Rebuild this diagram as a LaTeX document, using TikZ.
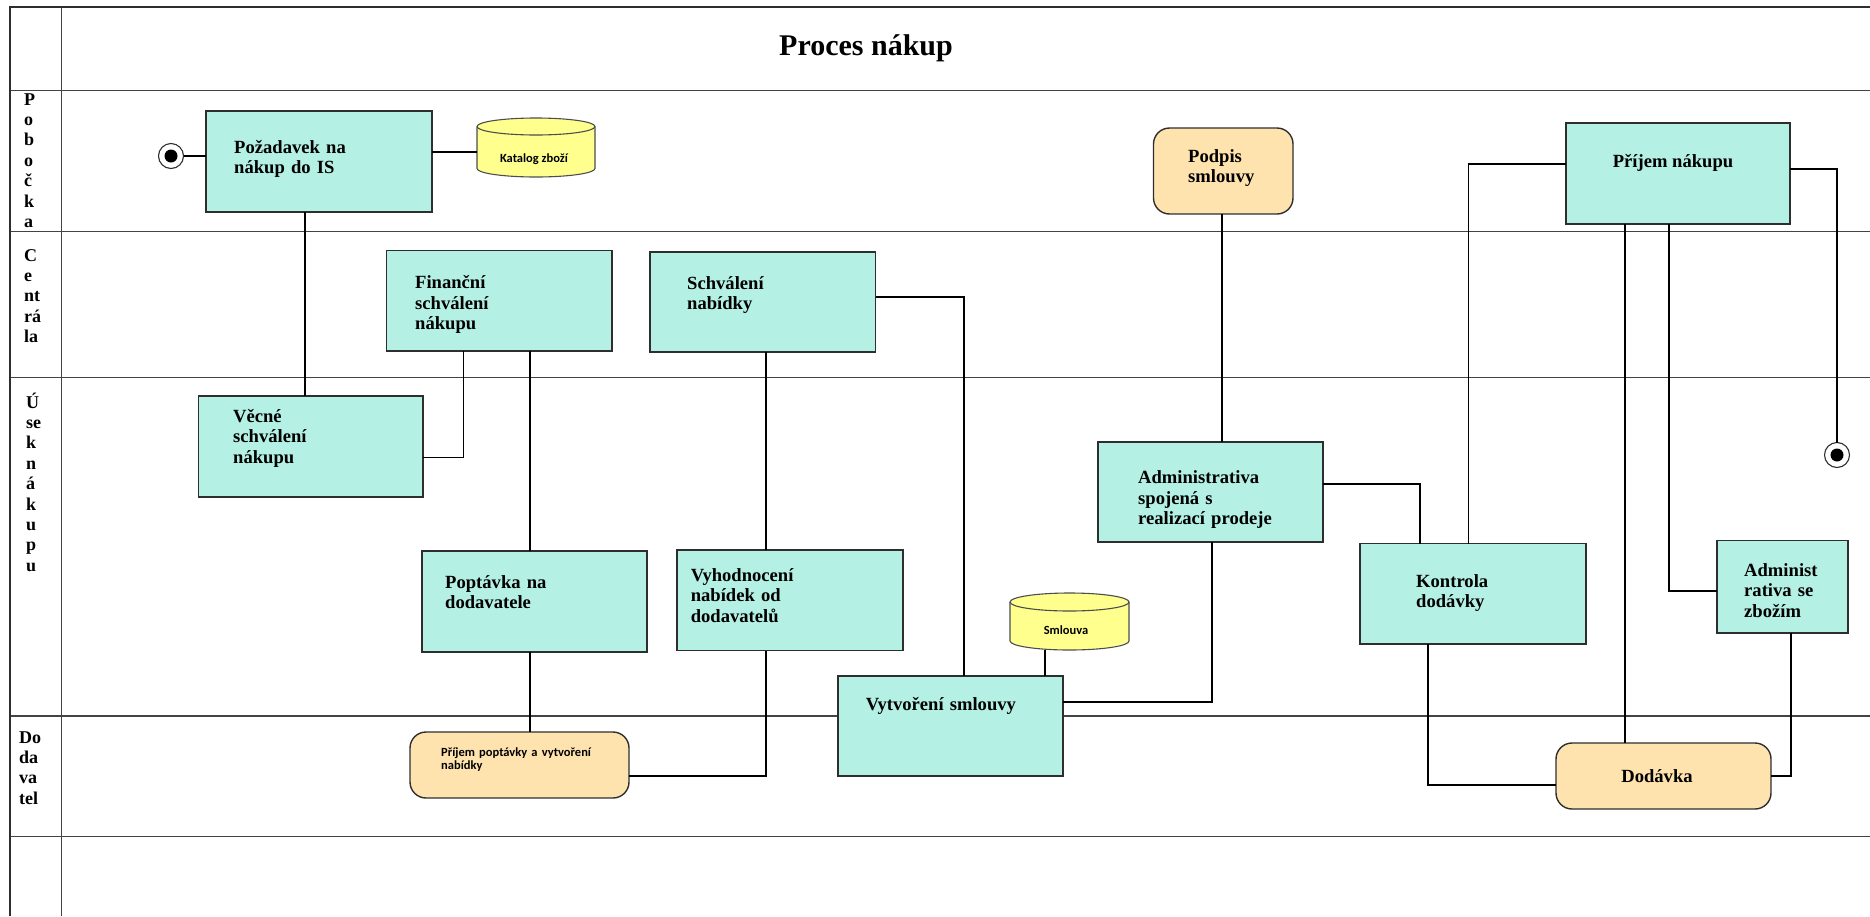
\documentclass[tikz,border=0pt]{standalone}
\usepackage{fontspec}
\setmainfont{Liberation Serif}
\newfontfamily\smallsans{Carlito}
\usetikzlibrary{calc}
\definecolor{aqua}{HTML}{B4F0E4}
\definecolor{peach}{HTML}{FFE3AE}
\definecolor{lemon}{HTML}{FFFF8E}
\definecolor{ink}{HTML}{2E2E2E}
\begin{document}
\begin{tikzpicture}[x=1pt,y=1pt,
  lane/.style={draw=ink!90, line width=1.7pt},
  proc/.style={draw=ink, line width=1.4pt, fill=aqua, rectangle, anchor=north west, inner sep=0pt, outer sep=0pt},
  ext/.style={draw=ink, line width=1.4pt, fill=peach, rectangle, rounded corners=16pt, anchor=north west, inner sep=0pt, outer sep=0pt},
  store/.style={rectangle, anchor=north west, inner sep=0pt, outer sep=0pt},
  drum/.style={fill=lemon, draw=ink!85, line width=1.1pt},
  boxtext/.style={anchor=base west, inner sep=0pt, text width=220pt, align=left, font=\bfseries\fontsize{18.6}{20.4}\selectfont},
  lanetext/.style={anchor=base west, inner sep=0pt, text width=40pt, align=left, font=\bfseries\fontsize{18}{20.4}\selectfont},
  smalltext/.style={inner sep=0pt, font=\smallsans\bfseries\fontsize{12.5}{13}\selectfont},
  flow/.style={draw=black, line width=1.3pt},
  event/.style={circle, draw=ink, line width=1.1pt, fill=white, minimum size=25pt, inner sep=0pt, outer sep=0pt},
]
\useasboundingbox (0,0) rectangle (1870,-916);

% frame and swimlanes
\draw[lane] (61.5,-7) -- (61.5,-916);
\foreach \yy in {90.6,231.5,377.5,716,836.5}
  \draw[lane] (10,-\yy) -- (1870,-\yy);
\draw[ink, line width=2.6pt] (10,-916) -- (10,-7) -- (1870,-7);

% title
\node[font=\bfseries\fontsize{30}{36}\selectfont] (title) at (866,-48) {Proces nákup};

% lane names
\node[lanetext] (lane1) at (24,-105) {P\\o\\b\\o\\č\\k\\a};
\node[lanetext] (lane2) at (24,-261) {C\\e\\nt\\rá\\la};
\node[lanetext] (lane3) at (26,-408) {Ú\\se\\k\\n\\á\\k\\u\\p\\u};
\node[lanetext] (lane4) at (19,-743) {Do\\da\\va\\tel};

% activities
\node[proc, minimum width=226pt, minimum height=101pt] (req) at (206,-111) {};
\node[boxtext] (req-t) at (234,-153.2) {Požadavek na\\nákup do IS};

\node[proc, minimum width=225.5pt, minimum height=100.5pt] (fin) at (386.5,-250.5) {};
\node[boxtext] (fin-t) at (415,-288.8) {Finanční\\schválení\\nákupu};

\node[proc, minimum width=225.5pt, minimum height=100pt] (schv) at (650,-252) {};
\node[boxtext] (schv-t) at (687,-289.5) {Schválení\\nabídky};

\node[proc, minimum width=224.5pt, minimum height=101pt] (vec) at (198.5,-396) {};
\node[boxtext] (vec-t) at (233,-422.5) {Věcné\\schválení\\nákupu};

\node[proc, minimum width=225pt, minimum height=101pt] (pop) at (422,-551) {};
\node[boxtext] (pop-t) at (445,-588.5) {Poptávka na\\dodavatele};

\node[proc, minimum width=226pt, minimum height=100.5pt] (vyh) at (677,-550) {};
\node[boxtext] (vyh-t) at (690.6,-581.5) {Vyhodnocení\\nabídek od\\dodavatelů};

\node[proc, minimum width=225pt, minimum height=100pt] (vyt) at (838,-676) {};
\node[boxtext] (vyt-t) at (865.6,-710.5) {Vytvoření smlouvy};

\node[proc, minimum width=225pt, minimum height=100pt] (adm) at (1098,-442) {};
\node[boxtext] (adm-t) at (1138,-483.8) {Administrativa\\spojená s\\realizací prodeje};

\node[proc, minimum width=226pt, minimum height=100.5pt] (kon) at (1360,-543.5) {};
\node[boxtext] (kon-t) at (1416,-587.2) {Kontrola\\dodávky};

\node[proc, minimum width=224pt, minimum height=101pt] (prn) at (1566,-123) {};
\node[font=\bfseries\fontsize{18.6}{20.4}\selectfont, inner sep=0pt] (prn-t) at (1673,-163.3) {Příjem nákupu};

\node[proc, minimum width=131pt, minimum height=92.5pt] (adz) at (1717,-540.5) {};
\node[boxtext] (adz-t) at (1744,-576.2) {Administ\\rativa se\\zbožím};

% supplier / external steps
\node[ext, minimum width=219pt, minimum height=66pt] (prp) at (410,-732) {};
\node[smalltext, anchor=base west, text width=200pt, align=left] (prp-t) at (441,-756.8) {Příjem poptávky a vytvoření\\nabídky};

\node[ext, minimum width=139.5pt, minimum height=86pt] (pod) at (1153.5,-128) {};
\node[boxtext] (pod-t) at (1188,-162.2) {Podpis\\smlouvy};

\node[ext, minimum width=215pt, minimum height=66pt] (dod) at (1556,-743) {};
\node[font=\bfseries\fontsize{18.6}{20.4}\selectfont, inner sep=0pt] (dod-t) at (1657,-776) {Dodávka};

% data stores
\node[store, minimum width=118pt, minimum height=59pt] (kat) at (477,-118) {};
\path[drum] ($(kat.north west)+(0,-8.5)$) -- ($(kat.south west)+(0,8.5)$)
  arc[start angle=180, end angle=360, x radius=59pt, y radius=8.5pt]
  -- ($(kat.north east)+(0,-8.5)$)
  arc[start angle=0, end angle=180, x radius=59pt, y radius=8.5pt] -- cycle;
\draw[ink!85, line width=1.1pt] ($(kat.north west)+(0,-8.5)$)
  arc[start angle=180, end angle=360, x radius=59pt, y radius=8.5pt];
\node[smalltext] (kat-t) at (534,-159.5) {Katalog zboží};

\node[store, minimum width=119pt, minimum height=57pt] (sml) at (1010,-593) {};
\path[drum] ($(sml.north west)+(0,-9)$) -- ($(sml.south west)+(0,9)$)
  arc[start angle=180, end angle=360, x radius=59.5pt, y radius=9pt]
  -- ($(sml.north east)+(0,-9)$)
  arc[start angle=0, end angle=180, x radius=59.5pt, y radius=9pt] -- cycle;
\draw[ink!85, line width=1.1pt] ($(sml.north west)+(0,-9)$)
  arc[start angle=180, end angle=360, x radius=59.5pt, y radius=9pt];
\node[smalltext] (sml-t) at (1066,-630) {Smlouva};

% start and end events
\node[event] (startev) at (171,-156) {};
\fill[black] (startev.center) circle[radius=6.5pt];
\node[event] (endev) at (1837,-455) {};
\fill[black] (endev.center) circle[radius=6.5pt];

% connectors
\draw[flow] (startev.east) -- (startev.east -| req.west);

\coordinate (c2) at ([yshift=-4.5pt]kat.west);
\draw[flow] (c2 -| req.east) -- (c2);

\coordinate (c3) at ([xshift=99pt]req.south west);
\draw[flow] (c3) -- (c3 |- vec.north);

\coordinate (c4) at ([yshift=-61.8pt]vec.north east);
\coordinate (c4b) at ([xshift=77pt]fin.south west);
\draw[flow] (c4) -| (c4b);

\coordinate (c5) at ([xshift=143.5pt]fin.south west);
\draw[flow] (c5) -- (c5 |- pop.north);

\coordinate (c6) at ([xshift=108pt]pop.south west);
\draw[flow] (c6) -- (c6 |- prp.north);

\coordinate (c7) at ([yshift=-44pt]prp.north east);
\coordinate (c7b) at ([xshift=89pt]vyh.south west);
\draw[flow] (c7) -| (c7b);

\coordinate (c8) at ([xshift=116pt]schv.south west);
\draw[flow] (c8) -- (c8 |- vyh.north);

\coordinate (c9) at ([yshift=-45pt]schv.north east);
\coordinate (c9b) at ([xshift=126pt]vyt.north west);
\draw[flow] (c9) -| (c9b);

\coordinate (c10) at ([xshift=35pt]sml.south west);
\draw[flow] (c10) -- (c10 |- vyt.north);

\coordinate (c11) at ([xshift=68.5pt]pod.south west);
\draw[flow] (c11) -- (c11 |- adm.north);

\coordinate (c12) at ([xshift=114pt]adm.south west);
\coordinate (c12b) at ([yshift=-26pt]vyt.north east);
\draw[flow] (c12) |- (c12b);

\coordinate (c13) at ([yshift=-42pt]adm.north east);
\coordinate (c13b) at ([xshift=60pt]kon.north west);
\draw[flow] (c13) -| (c13b);

\coordinate (c14) at ([yshift=-41pt]prn.north west);
\coordinate (c14b) at ([xshift=108.5pt]kon.north west);
\draw[flow] (c14) -| (c14b);

\coordinate (c15) at ([xshift=59pt]prn.south west);
\draw[flow] (c15) -- (c15 |- dod.north);

\coordinate (c16) at ([xshift=103pt]prn.south west);
\coordinate (c16b) at ([yshift=-50.5pt]adz.north west);
\draw[flow] (c16) |- (c16b);

\coordinate (c17) at ([yshift=-46pt]prn.north east);
\draw[flow] (c17) -| (endev.north);

\coordinate (c18) at ([xshift=68pt]kon.south west);
\coordinate (c18b) at ([yshift=-42pt]dod.north west);
\draw[flow] (c18) |- (c18b);

\coordinate (c19) at ([xshift=74pt]adz.south west);
\coordinate (c19b) at ([yshift=-33pt]dod.north east);
\draw[flow] (c19) |- (c19b);
\end{tikzpicture}
\end{document}
